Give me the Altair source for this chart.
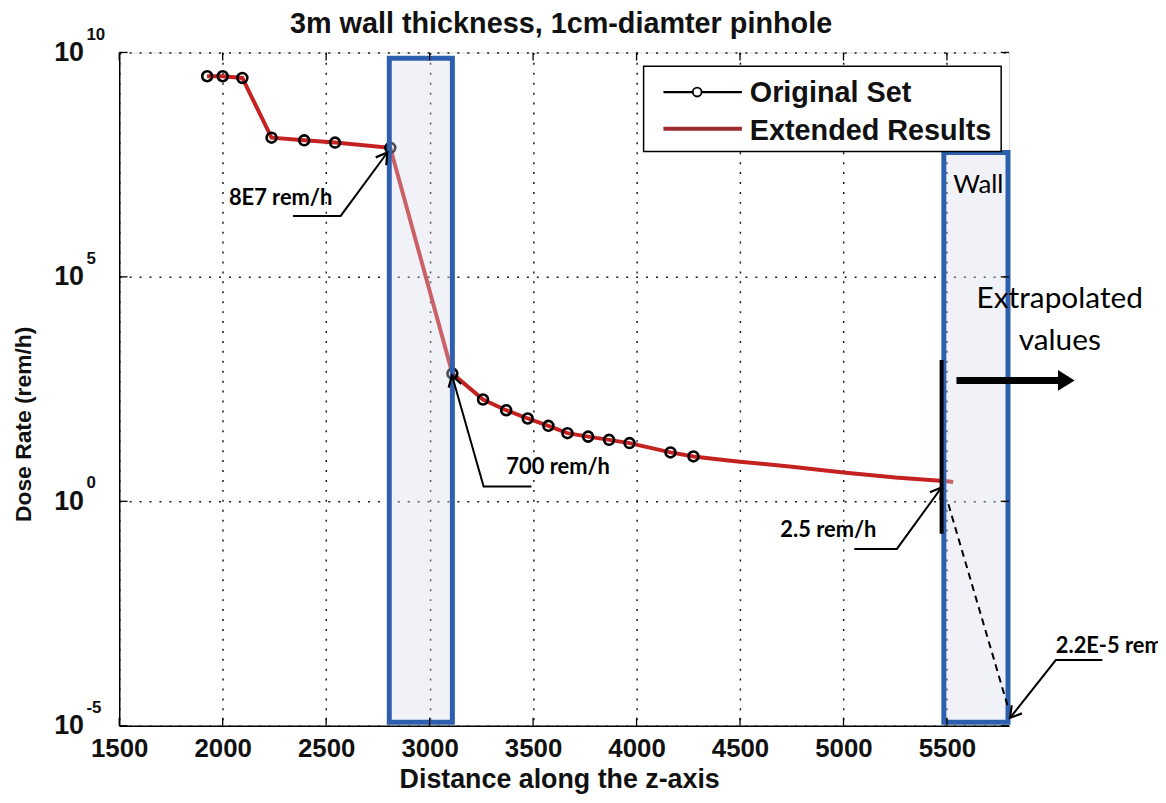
import math
import altair as alt
import pandas as pd

# ---------------- data ----------------
orig_x = [1925, 2000, 2095, 2236, 2394, 2543, 2810, 3110, 3258, 3370, 3474,
          3574, 3666, 3766, 3867, 3966, 4164, 4275]
orig_y = [2.95e9, 2.95e9, 2.7e9, 1.26e8, 1.1e8, 9.8e7, 7.5e7, 700, 185, 107, 70,
          48, 33, 27.6, 23.4, 19.8, 12.3, 10.0]
ext_tail_x = [4400, 4500, 4750, 5000, 5250, 5500, 5530]
ext_tail_y = [8.5, 7.6, 5.9, 4.4, 3.4, 2.8, 2.7]

x_ticks = [1500, 2000, 2500, 3000, 3500, 4000, 4500, 5000, 5500]
y_ticks = [1e-5, 1, 1e5, 1e10]
y_exps = ["-5", "0", "5", "10"]

wall_x0 = [2805, 5485]
wall_x1 = [3110, 5795]
wall_top = [7.4e9, 5.9e7]
wall_bot = [1.2e-5, 1.2e-5]

# callouts: (label, text x, text y, align, polyline points ending at arrow tip)
callouts = [
    ("8E7 rem/h", 2280, 5.7e6, "center", [(2340, 2.28e6), (2570, 2.28e6), (2796, 5.9e7)]),
    ("700 rem/h", 3621, 5.9, "center", [(3492, 2.14), (3261, 2.14), (3108, 640)]),
    ("2.5 rem/h", 4927, 0.229, "center", [(5052, 0.087), (5258, 0.087), (5474, 2.04)]),
    ("2.2E-5 rem/h", 6026, 6e-4, "left", [(6251, 2.9e-4), (6026, 2.9e-4), (5805, 1.5e-5)]),
]
dashed_x = [5507, 5795]
dashed_y = [0.86, 2.6e-5]
vbar_x = 5474
vbar_y = [1.4e3, 0.19]
big_arrow_x = [5546, 6059]
big_arrow_tip_x = 6117
big_arrow_y = 493
extra_text = [("Extrapolated", 6045, 3.2e4), ("values", 6045, 3.8e3)]
wall_label = ("Wall", 5530, 1.1e7)

title_text = "3m wall thickness, 1cm-diamter pinhole"
title_pos = (3635, 10 ** 10.64)

legend_box = (4034, 5762, 4.9e9, 6.2e7)
legend_line_x = [4130, 4509]
legend_marker_x = 4293
legend_rows_y = [1.31e9, 2.0e8]
legend_text_x = 4547
legend_text_y = [1.24e9, 1.8e8]
legend_labels = ["Original Set", "Extended Results"]

# ---------------- layout ----------------
W, H = 896, 678
X0, X1 = 1500, 5800
E0, E1 = -5, 10
RED = "#c42121"
BLUE = "#2d5fae"
MFONT = "Liberation Sans"
CFONT = "Lato"
XT = "Distance along the z-axis"
YT = "Dose Rate (rem/h)"


def to_px(x, y):
    return ((x - X0) / (X1 - X0) * W, (E1 - math.log10(y)) / (E1 - E0) * H)


def head_angle(a, b):
    ax, ay = to_px(*a)
    bx, by = to_px(*b)
    return math.degrees(math.atan2(by - ay, bx - ax)) % 360


xs = alt.Scale(domain=[X0, X1], nice=False, zero=False)
ys = alt.Scale(type="log", domain=[10 ** E0, 10 ** E1], nice=False)

orig_df = pd.DataFrame({"x": orig_x, "y": orig_y})
ext_df = pd.DataFrame({"x": orig_x + ext_tail_x, "y": orig_y + ext_tail_y})


def X():
    return alt.X("x:Q", scale=xs, title=XT)


def Y():
    return alt.Y("y:Q", scale=ys, title=YT)


X2 = alt.X2("x2:Q", title=XT)
Y2 = alt.Y2("y2:Q", title=YT)

# base layer carrying the axes
base = alt.Chart(orig_df).mark_point(opacity=0).encode(
    x=alt.X("x:Q", scale=xs, title=XT, axis=alt.Axis(
        values=x_ticks, format="d", grid=True,
        gridColor="#000", gridDash=[2, 8], gridWidth=1.5, gridOpacity=0.9,
        ticks=False, labelPadding=10, labelFontSize=26, labelFont=MFONT,
        labelFontWeight="bold", labelColor="#111", labelFlush=False,
        labelOverlap=False, domainColor="#000", domainWidth=1.5,
        titleFont=MFONT, titleFontSize=27, titleFontWeight="bold",
        titleColor="#111", titleY=54, titleBaseline="middle", titleX=443)),
    y=alt.Y("y:Q", scale=ys, title=YT, axis=alt.Axis(
        values=y_ticks, labelExpr="'10'", grid=True,
        gridColor="#000", gridDash=[2, 8], gridWidth=1.5, gridOpacity=0.9,
        ticks=False, labelPadding=36, labelFontSize=27, labelFont=MFONT,
        labelFontWeight="bold", labelColor="#111", labelFlush=False,
        labelOverlap=False,
        domainColor="#000", domainWidth=1.5,
        titleFont=MFONT, titleFontSize=23, titleFontWeight="bold",
        titleColor="#111", titleAngle=270, titleX=-96, titleY=374,
        titleAlign="center", titleBaseline="middle")),
)

# inner tick marks (MATLAB box style)
tick_rows = []
for t in x_ticks:
    tick_rows.append({"x": t, "x2": t, "y": 10 ** E0, "y2": 10 ** (E0 + 0.18)})
    tick_rows.append({"x": t, "x2": t, "y": 10 ** E1, "y2": 10 ** (E1 - 0.18)})
for t in y_ticks:
    tick_rows.append({"x": X0, "x2": X0 + 40, "y": t, "y2": t})
    tick_rows.append({"x": X1 - 40, "x2": X1, "y": t, "y2": t})
ticks = alt.Chart(pd.DataFrame(tick_rows)).mark_rule(color="#000", strokeWidth=1.3).encode(
    x=X(), x2=X2, y=Y(), y2=Y2)

sup = alt.Chart(pd.DataFrame({"x": [X0] * 4, "y": y_ticks, "t": y_exps})).mark_text(
    align="left", baseline="middle", dx=-33, dy=-18, font=MFONT, fontSize=17,
    fontWeight="bold", color="#111").encode(x=X(), y=Y(), text="t:N")

title = alt.Chart(pd.DataFrame({"x": [title_pos[0]], "y": [title_pos[1]], "t": [title_text]})).mark_text(
    align="center", baseline="middle", font=MFONT, fontSize=29, fontWeight="bold",
    color="#111").encode(x=X(), y=Y(), text="t:N")

orig_line = alt.Chart(orig_df).mark_line(color="#000", strokeWidth=2).encode(x=X(), y=Y())
ext_line = alt.Chart(ext_df).mark_line(color=RED, strokeWidth=4).encode(x=X(), y=Y())
orig_pts = alt.Chart(orig_df).mark_point(
    shape="circle", size=100, filled=False, color="#000", strokeWidth=2.6, opacity=1).encode(x=X(), y=Y())

walls_df = pd.DataFrame({"x": wall_x0, "x2": wall_x1, "y": wall_bot, "y2": wall_top})
walls = alt.Chart(walls_df).mark_rect(
    fill="#d3dbe8", fillOpacity=0.35, stroke=BLUE, strokeWidth=5).encode(
    x=X(), x2=X2, y=Y(), y2=Y2)

# callout lines and heads
cl_rows, head_rows, txt_rows = [], [], []
for i, (lab, tx, ty, al, pts) in enumerate(callouts):
    for j, (px_, py_) in enumerate(pts):
        cl_rows.append({"id": i, "o": j, "x": px_, "y": py_})
    head_rows.append({"x": pts[-1][0], "y": pts[-1][1], "a": head_angle(pts[-2], pts[-1])})
    txt_rows.append({"x": tx, "y": ty, "t": lab, "al": al})
cl = alt.Chart(pd.DataFrame(cl_rows)).mark_line(color="#000", strokeWidth=2).encode(
    x=X(), y=Y(), detail="id:N", order="o:Q")
heads = alt.Chart(pd.DataFrame(head_rows)).mark_point(
    shape="M-1,-0.6L0,0L-1,0.6", size=480, filled=False, color="#000", strokeWidth=2.2,
    opacity=1).encode(x=X(), y=Y(), angle=alt.Angle("a:Q", scale=None))
txt_df = pd.DataFrame(txt_rows)
ctext_c = alt.Chart(txt_df[txt_df.al == "center"]).mark_text(
    align="center", baseline="middle", font=CFONT, fontSize=22, fontWeight="bold",
    color="#000").encode(x=X(), y=Y(), text="t:N")
ctext_l = alt.Chart(txt_df[txt_df.al == "left"]).mark_text(
    align="left", baseline="middle", font=CFONT, fontSize=22, fontWeight="bold",
    color="#000").encode(x=X(), y=Y(), text="t:N")

dashed = alt.Chart(pd.DataFrame({"x": dashed_x, "y": dashed_y})).mark_line(
    color="#000", strokeWidth=2, strokeDash=[7, 5]).encode(x=X(), y=Y())
vbar = alt.Chart(pd.DataFrame({"x": [vbar_x], "y": [vbar_y[0]], "y2": [vbar_y[1]]})).mark_rule(
    color="#000", strokeWidth=4).encode(x=X(), y=Y(), y2=Y2)
big_shaft = alt.Chart(pd.DataFrame({"x": [big_arrow_x[0]], "x2": [big_arrow_x[1]],
                                    "y": [big_arrow_y]})).mark_rule(
    color="#000", strokeWidth=7).encode(x=X(), x2=X2, y=Y())
big_head = alt.Chart(pd.DataFrame({"x": [big_arrow_tip_x], "y": [big_arrow_y]})).mark_point(
    shape="M-1.6,-1L0,0L-1.6,1Z", size=440, filled=True, color="#000", opacity=1).encode(
    x=X(), y=Y())
extra = alt.Chart(pd.DataFrame([{"t": t, "x": x, "y": y} for t, x, y in extra_text])).mark_text(
    align="center", baseline="middle", font=CFONT, fontSize=30, color="#000").encode(
    x=X(), y=Y(), text="t:N")
wall_txt = alt.Chart(pd.DataFrame([{"t": wall_label[0], "x": wall_label[1], "y": wall_label[2]}])).mark_text(
    align="left", baseline="middle", font=CFONT, fontSize=26, color="#000").encode(
    x=X(), y=Y(), text="t:N")

# legend (drawn in data space)
lg_box = alt.Chart(pd.DataFrame({"x": [legend_box[0]], "x2": [legend_box[1]],
                                 "y": [legend_box[2]], "y2": [legend_box[3]]})).mark_rect(
    fill="white", stroke="#000", strokeWidth=1.5).encode(x=X(), x2=X2, y=Y(), y2=Y2)
lg_line_a = alt.Chart(pd.DataFrame({"x": [legend_line_x[0]], "x2": [legend_line_x[1]],
                                    "y": [legend_rows_y[0]]})).mark_rule(
    color="#000", strokeWidth=2.2).encode(x=X(), x2=X2, y=Y())
lg_line_b = alt.Chart(pd.DataFrame({"x": [legend_line_x[0]], "x2": [legend_line_x[1]],
                                    "y": [legend_rows_y[1]]})).mark_rule(
    color="#9e2a2f", strokeWidth=4).encode(x=X(), x2=X2, y=Y())
lg_marker = alt.Chart(pd.DataFrame({"x": [legend_marker_x], "y": [legend_rows_y[0]]})).mark_point(
    shape="circle", size=80, filled=True, fill="white", stroke="#000", strokeWidth=1.8,
    opacity=1).encode(x=X(), y=Y())
lg_text = alt.Chart(pd.DataFrame({"x": [legend_text_x] * 2, "y": legend_text_y,
                                  "t": legend_labels})).mark_text(
    align="left", baseline="middle", font=MFONT, fontSize=29, fontWeight="bold",
    color="#111").encode(x=X(), y=Y(), text="t:N")

chart = alt.layer(
    base, orig_line, ext_line, orig_pts, walls, ticks, sup, title,
    cl, heads, ctext_c, ctext_l, dashed, vbar, big_shaft, big_head, extra, wall_txt,
    lg_box, lg_line_a, lg_line_b, lg_marker, lg_text,
).properties(
    width=W, height=H,
    autosize=alt.AutoSizeParams(type="none"),
    padding={"left": 112, "top": 42, "right": 150, "bottom": 67},
).configure_view(stroke="#000", strokeWidth=1.5).configure(background="white")

chart.save("out.html", embed_options={"renderer": "svg", "actions": False})
